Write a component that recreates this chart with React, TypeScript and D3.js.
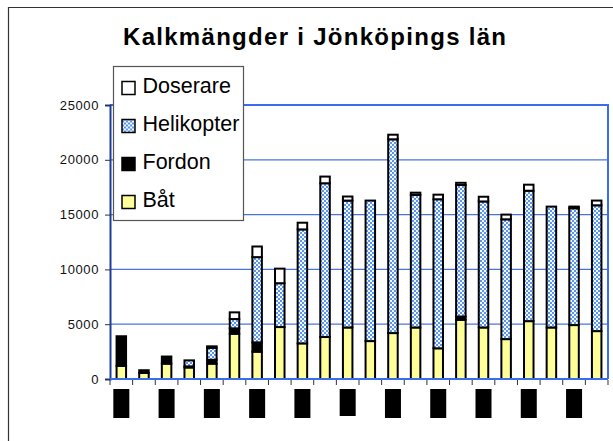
import { useRef, useEffect } from 'react'
import * as d3 from 'd3'

// years are blacked out in the source image; kept as labels under black boxes
const years = ['1983', '1984', '1985', '1986', '1987', '1988', '1989', '1990', '1991', '1992', '1993',
  '1994', '1995', '1996', '1997', '1998', '1999', '2000', '2001', '2002', '2003', '2004']

const bat = [1200, 550, 1400, 1050, 1400, 4130, 2490, 4740, 3250, 3830, 4700, 3460, 4190, 4700, 2800, 5400, 4700, 3640, 5280, 4700, 4920, 4370]
const fordon = [2700, 250, 650, 100, 350, 490, 850, 0, 0, 0, 0, 0, 0, 0, 0, 300, 0, 0, 0, 0, 0, 0]
const helikopter = [0, 0, 0, 550, 1100, 850, 7780, 4000, 10400, 14030, 11580, 12820, 17680, 12100, 13600, 12000, 11500, 10930, 11900, 11030, 10660, 11480]
const doserare = [0, 0, 0, 0, 130, 610, 970, 1330, 610, 610, 370, 0, 420, 200, 420, 200, 430, 430, 550, 0, 150, 430]

const seriesNames = ['Båt', 'Fordon', 'Helikopter', 'Doserare']
const yTicks = [0, 5000, 10000, 15000, 20000, 25000]

const fills: Record<string, string> = {
  'Båt': '#ffff99',
  'Fordon': '#000000',
  'Helikopter': 'url(#heli)',
  'Doserare': '#ffffff',
}

const App = () => {
  const chartRef = useRef<SVGSVGElement>(null)

  useEffect(() => {
    drawChart()
  }, [])

  const drawChart = () => {
    const svg = d3.select(chartRef.current)
    svg.selectAll('*').remove()
    const left = 110, right = 608, top = 105, bottom = 379

    const table = years.map((y, i) => ({
      year: y, 'Båt': bat[i], 'Fordon': fordon[i], 'Helikopter': helikopter[i], 'Doserare': doserare[i],
    }))
    const stacked = d3.stack<any>().keys(seriesNames)(table)

    const x = d3.scaleBand().domain(years).range([left, right]).paddingInner(0.58).paddingOuter(0.29)
    const step = x.step()
    const y = d3.scaleLinear().domain([0, 25000]).range([bottom, top])

    const defs = svg.append('defs')
    const pat = defs.append('pattern').attr('id', 'heli').attr('width', 4).attr('height', 4)
      .attr('patternUnits', 'userSpaceOnUse')
    pat.append('rect').attr('width', 4).attr('height', 4).attr('fill', '#f2f7ff')
    pat.append('rect').attr('width', 2).attr('height', 2).attr('fill', '#5b96ee')
    pat.append('rect').attr('x', 2).attr('y', 2).attr('width', 2).attr('height', 2).attr('fill', '#5b96ee')

    // outer chart frame
    svg.append('path').attr('d', 'M8.5,441 L8.5,7.5 L613,7.5').attr('fill', 'none').attr('stroke', '#333').attr('stroke-width', 1.2)

    svg.append('text')
      .attr('x', 314.5).attr('y', 45).attr('text-anchor', 'middle')
      .attr('font-family', 'Arial, "Liberation Sans", sans-serif').attr('font-weight', 'bold').attr('font-size', 24)
      .attr('textLength', 383).attr('lengthAdjust', 'spacing')
      .text('Kalkmängder i Jönköpings län')

    // gridlines
    svg.append('g').selectAll('line').data(yTicks.filter(t => t > 0 && t < 25000)).enter().append('line')
      .attr('x1', left).attr('x2', right).attr('y1', d => y(d)).attr('y2', d => y(d))
      .attr('stroke', '#4a74e0').attr('stroke-width', 1.2)

    // plot frame top/right
    svg.append('path').attr('d', `M${left},${top} L${right},${top} L${right},${bottom}`)
      .attr('fill', 'none').attr('stroke', '#3a6cf0').attr('stroke-width', 2)

    // bars
    svg.append('g').selectAll('g').data(stacked).enter().append('g')
      .attr('fill', d => fills[d.key])
      .selectAll('rect').data(d => d.filter(s => s[1] - s[0] > 0)).enter().append('rect')
      .attr('x', d => x(d.data.year)!).attr('width', x.bandwidth())
      .attr('y', d => y(d[1])).attr('height', d => y(d[0]) - y(d[1]))
      .attr('stroke', '#000').attr('stroke-width', 2)

    // y axis
    const yAxis = svg.append('g').attr('transform', `translate(${left},0)`)
      .call(d3.axisLeft(y).tickValues(yTicks).tickSize(5).tickPadding(6).tickFormat(d3.format('d')))
    yAxis.select('.domain').attr('stroke', '#1c3c9c').attr('stroke-width', 2)
    yAxis.selectAll('.tick line').attr('stroke', '#333')
    yAxis.selectAll('text').attr('font-family', 'Arial, "Liberation Sans", sans-serif').attr('font-size', 13)
      .attr('letter-spacing', 0.6).attr('fill', '#111')

    // x axis
    const xAxis = svg.append('g').attr('transform', `translate(0,${bottom})`)
    xAxis.append('line').attr('x1', left).attr('x2', right).attr('stroke', '#3a6cf0').attr('stroke-width', 2)
    xAxis.selectAll('line.t').data(d3.range(years.length + 1)).enter().append('line')
      .attr('class', 't')
      .attr('x1', i => left + i * step).attr('x2', i => left + i * step)
      .attr('y1', 1).attr('y2', 6).attr('stroke', '#333')

    // blacked-out year labels on every other category
    const labels = svg.append('g').selectAll('g').data(years.filter((_, i) => i % 2 === 0)).enter().append('g')
      .attr('transform', d => `translate(${x(d)! + x.bandwidth() / 2},${bottom + 10})`)
    labels.append('rect').attr('x', -8).attr('y', 0).attr('width', 16).attr('height', (d, i) => i === 5 ? 27 : 29)
      .attr('fill', '#000')
    labels.append('text').attr('transform', 'translate(4,26) rotate(-90)')
      .attr('font-family', 'Arial, "Liberation Sans", sans-serif').attr('font-size', 10).attr('fill', '#000')
      .text(d => d)

    // legend
    const lg = svg.append('g')
    lg.append('rect').attr('x', 113.5).attr('y', 66.5).attr('width', 130).attr('height', 154)
      .attr('fill', '#fff').attr('stroke', '#555').attr('stroke-width', 1.2)
    const items = lg.selectAll('g').data(seriesNames.slice().reverse()).enter().append('g')
      .attr('transform', (d, i) => `translate(0,${92.5 + i * 38})`)
    items.append('rect').attr('x', 122).attr('y', -11).attr('width', 13).attr('height', 13)
      .attr('fill', d => fills[d]).attr('stroke', '#000').attr('stroke-width', 1.5)
    items.append('text').attr('x', 142.5).attr('y', 0)
      .attr('font-family', 'Arial, "Liberation Sans", sans-serif').attr('font-size', 21.5).attr('fill', '#000')
      .text(d => d)
  }

  return (
    <svg ref={chartRef} width={613} height={441} style={{ position: 'absolute', left: 0, top: 0, background: '#fff' }}></svg>
  )
}

export default App
